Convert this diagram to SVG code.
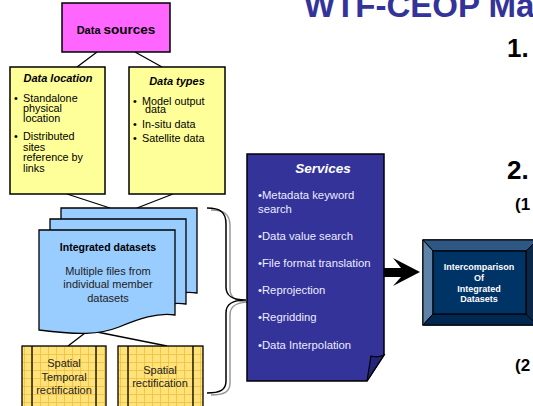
<svg xmlns="http://www.w3.org/2000/svg" width="533" height="406" viewBox="0 0 533 406">
<defs>
<style>
text{font-family:"Liberation Sans",Arial,sans-serif}
.box{stroke:#000;stroke-width:1.5}
.ln{stroke:#000;stroke-width:1.3;fill:none}
.t{font-size:11px;fill:#000}
.b{font-weight:bold}
.i{font-style:italic}
.mid{text-anchor:middle}
.sv{font-size:11.3px;fill:#ECECFF}
.ic{font-size:9px;font-weight:bold;fill:#fff;text-anchor:middle}
.doc{fill:#99CCFF;stroke:#000;stroke-width:1.3}
.yl{fill:#FFFF99}
.sm{font-size:11px;fill:#222;text-anchor:middle}
</style>
<pattern id="grid" width="8" height="8" patternUnits="userSpaceOnUse" x="0" y="2">
<rect width="8" height="8" fill="#FFE27A"/>
<path d="M0,0.5H8M0.5,0V8" stroke="#F2BE3A" stroke-width="0.8"/>
</pattern>
</defs>

<text x="304" y="17" style="font-size:33px;font-weight:bold;fill:#333399">WTF-CEOP Ma</text>
<text x="507" y="57" class="b" style="font-size:26px">1.</text>
<text x="507" y="179" class="b" style="font-size:26px">2.</text>
<text x="515" y="210" class="b" style="font-size:17px">(1</text>
<text x="515" y="371" class="b" style="font-size:17px">(2</text>

<g id="connectors">
<path class="ln" d="M97,52L77,67M135,52L162,67"/>
<path class="ln" d="M67,194L110,208M173,194L137,208"/>
<path class="ln" d="M85,333L68,346M97,332L167,346"/>
<path d="M211,210C224,210 230,214 230,226L230,289C230,298 236,302 250,302C236,302 230,306 230,315L230,383C230,392 224,395 211,395" fill="none" stroke="#999" stroke-width="1.5"/>
<path d="M207,208C220,208 226,212 226,224L226,287C226,296 232,300 246,300C232,300 226,304 226,313L226,381C226,390 220,393 207,393" fill="none" stroke="#000" stroke-width="1.5"/>
<polygon points="384,268 401,268 393,258 420,272 393,286 401,277 384,277" fill="#000"/>
</g>

<g id="data-sources">
<rect class="box" x="62" y="3" width="108" height="49" fill="#FF66FF"/>
<text x="116" y="34" class="b mid"><tspan style="font-size:11px">Data </tspan><tspan style="font-size:13.5px">sources</tspan></text>
</g>

<g id="data-location">
<rect class="box yl" x="10" y="67" width="95" height="127"/>
<text x="58" y="82" class="t b i mid">Data location</text>
<text class="t" style="font-size:10.8px">
<tspan x="14" y="102">•</tspan><tspan x="23" y="102">Standalone</tspan>
<tspan x="23" y="112">physical</tspan>
<tspan x="23" y="122">location</tspan>
<tspan x="14" y="140">•</tspan><tspan x="23" y="140">Distributed</tspan>
<tspan x="23" y="151">sites</tspan>
<tspan x="23" y="161">reference by</tspan>
<tspan x="23" y="172">links</tspan>
</text>
</g>

<g id="data-types">
<rect class="box yl" x="129" y="67" width="96" height="127"/>
<text x="177" y="85" class="t b i mid">Data types</text>
<text class="t" style="font-size:10.8px">
<tspan x="133" y="105">•</tspan><tspan x="142" y="105">Model output</tspan>
<tspan x="145" y="113">data</tspan>
<tspan x="133" y="128">•</tspan><tspan x="142" y="128">In-situ data</tspan>
<tspan x="133" y="142">•</tspan><tspan x="142" y="142">Satellite data</tspan>
</text>
</g>

<g id="integrated-datasets">
<path class="doc" d="M61,208H197V293C180,290 160,297 141,305C121,313 100,313 61,308Z"/>
<path class="doc" d="M50,219H186V304C169,301 149,308 130,316C110,324 89,324 50,319Z"/>
<path class="doc" d="M39,230H175V315C158,312 138,319 119,327C99,335 78,335 39,330Z"/>
<text x="108" y="251" class="t b mid" style="font-size:10.5px">Integrated datasets</text>
<text class="t mid" style="fill:#222"><tspan x="108" y="275">Multiple files from</tspan><tspan x="108" y="288">individual member</tspan><tspan x="108" y="302">datasets</tspan></text>
</g>

<g id="spatial-temporal">
<rect x="22" y="346" width="84" height="70" fill="url(#grid)" stroke="#000" stroke-width="1.3"/>
<path class="ln" d="M32,346V410M96,346V410"/>
<text class="sm"><tspan x="64" y="367">Spatial</tspan><tspan x="64" y="381">Temporal</tspan><tspan x="64" y="394">rectification</tspan></text>
</g>

<g id="spatial">
<rect x="118" y="346" width="85" height="70" fill="url(#grid)" stroke="#000" stroke-width="1.3"/>
<path class="ln" d="M128,346V410M193,346V410"/>
<text class="sm"><tspan x="160" y="374">Spatial</tspan><tspan x="160" y="387">rectification</tspan></text>
</g>

<g id="services">
<path class="box" d="M247,154H384V355L367,381H247Z" fill="#333399"/>
<path d="M367,381L371,356Q377,358 384,355Z" fill="#24247A" stroke="#000" stroke-width="1.2"/>
<text x="323" y="173" class="b i mid" style="font-size:13.5px;fill:#fff">Services</text>
<text class="sv">
<tspan x="258" y="199">•Metadata keyword</tspan>
<tspan x="258" y="213">search</tspan>
<tspan x="258" y="240">•Data value search</tspan>
<tspan x="258" y="267">•File format translation</tspan>
<tspan x="258" y="294">•Reprojection</tspan>
<tspan x="258" y="321">•Regridding</tspan>
<tspan x="258" y="349">•Data Interpolation</tspan>
</text>
</g>

<g id="intercomparison">
<rect x="423" y="240" width="114" height="85" fill="#003366" stroke="#000" stroke-width="1.5"/>
<polygon points="423,240 537,240 526,251 433,251" fill="#2E5883" stroke="#000" stroke-width="1"/>
<polygon points="423,240 433,251 433,314 423,325" fill="#5F83A8" stroke="#000" stroke-width="1"/>
<polygon points="423,325 433,314 526,314 537,325" fill="#002850" stroke="#000" stroke-width="1"/>
<polygon points="537,240 526,251 526,314 537,325" fill="#0B2747" stroke="#000" stroke-width="1"/>
<rect x="433" y="251" width="93" height="63" fill="#003366" stroke="#000" stroke-width="1.2"/>
<text class="ic"><tspan x="479" y="270">Intercomparison</tspan><tspan x="479" y="281">Of</tspan><tspan x="479" y="292">Integrated</tspan><tspan x="479" y="302">Datasets</tspan></text>
</g>
</svg>
